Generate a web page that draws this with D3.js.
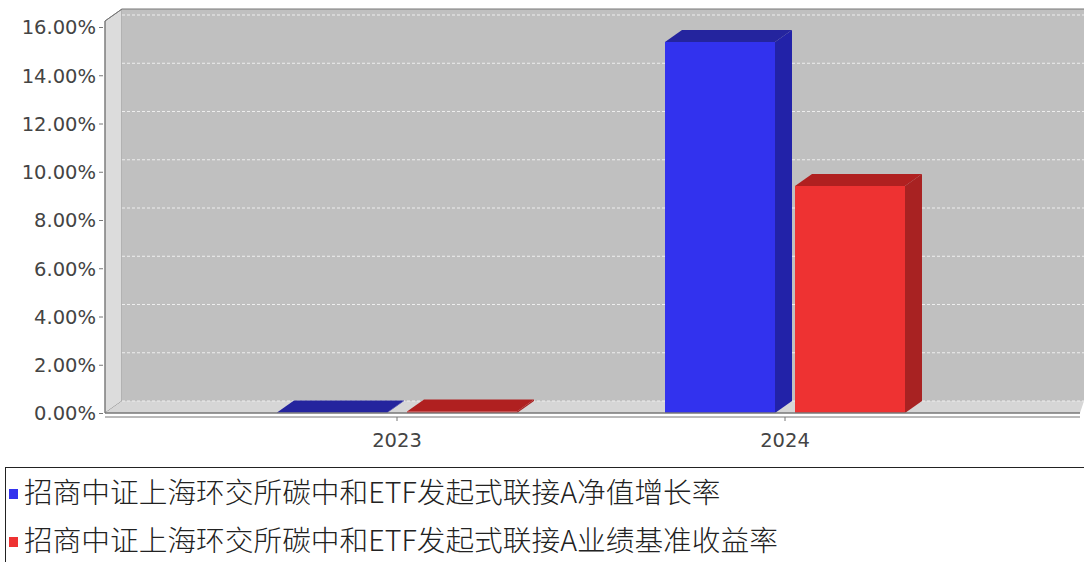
<html>
<head>
<meta charset="utf-8">
<script src="https://cdn.jsdelivr.net/npm/d3@7"></script>
<style>
body{margin:0;background:#fff;font-family:"DejaVu Sans",sans-serif;}
</style>
</head>
<body>
<div id="chart"></div>
<script>
const categories = ['2023', '2024'];
const seriesNames = ['招商中证上海环交所碳中和ETF发起式联接A净值增长率', '招商中证上海环交所碳中和ETF发起式联接A业绩基准收益率'];
const navGrowth = [0.02, 15.38];
const benchmark = [0.06, 9.41];
const yTicks = [0, 2, 4, 6, 8, 10, 12, 14, 16];

const W = 1084, H = 562, dx = 17, dy = 12;
const pLeft = 105, pTop = 27, pBottom = 413;
const front = ['#3232ee', '#ee3232'], side = ['#2222a8', '#a82222'], roof = ['#24249e', '#b02020'];

const svg = d3.select('#chart').append('svg').attr('width', W).attr('height', H);
const y = d3.scaleLinear().domain([0, 16]).range([pBottom, pTop]);
const x = d3.scaleBand().domain(categories).range([203, 979]);
const sub = d3.scaleBand().domain([0, 1]).range([-120, 120]).paddingInner(0.1538);

// side wall, back wall, floor
svg.append('path').attr('d', `M${pLeft},${pBottom}L${pLeft},${pTop - 6}L${pLeft + dx},${pTop - 6 - dy}L${pLeft + dx},${pBottom - dy}Z`)
  .attr('fill', '#dcdcdc').attr('stroke', '#888');
svg.append('rect').attr('x', pLeft + dx).attr('y', pTop - 6 - dy).attr('width', W - pLeft - dx).attr('height', pBottom - pTop + 6)
  .attr('fill', '#c0c0c0');
svg.append('path').attr('d', `M${pLeft},${pBottom}L${pLeft + dx},${pBottom - dy}L${W},${pBottom - dy}L${W - 4},${pBottom}Z`)
  .attr('fill', '#d6d6d6');
svg.append('path').attr('d', `M${pLeft},${pTop - 6}L${pLeft + dx},${pTop - 6 - dy}L${W},${pTop - 6 - dy}`).attr('fill', 'none').attr('stroke', '#777');
svg.selectAll('.grid').data(yTicks.slice(1)).join('line')
  .attr('x1', pLeft + dx).attr('x2', W).attr('y1', d => y(d) - dy).attr('y2', d => y(d) - dy)
  .attr('stroke', '#eee').attr('stroke-dasharray', '3,2');
svg.append('line').attr('x1', pLeft + dx).attr('x2', W).attr('y1', pBottom - dy).attr('y2', pBottom - dy)
  .attr('stroke', '#eee').attr('stroke-dasharray', '3,2');

// bars
const data = [];
categories.forEach((c, i) => { data.push({c, s: 0, v: navGrowth[i]}); data.push({c, s: 1, v: benchmark[i]}); });
data.forEach(d => {
  const x0 = x(d.c) + x.bandwidth() / 2 + sub(d.s), x1 = x0 + sub.bandwidth(), yt = y(d.v);
  const g = svg.append('g');
  g.append('rect').attr('x', x0).attr('y', yt).attr('width', x1 - x0).attr('height', pBottom - yt).attr('fill', front[d.s]);
  g.append('path').attr('d', `M${x1},${yt}L${x1 + dx},${yt - dy}L${x1 + dx},${pBottom - dy}L${x1},${pBottom}Z`).attr('fill', side[d.s]);
  g.append('path').attr('d', `M${x0},${yt}L${x0 + dx},${yt - dy}L${x1 + dx},${yt - dy}L${x1},${yt}Z`).attr('fill', roof[d.s]);
});

// axes
svg.append('line').attr('x1', pLeft).attr('x2', pLeft).attr('y1', pTop - 6).attr('y2', pBottom).attr('stroke', '#777');
svg.append('line').attr('x1', pLeft).attr('x2', W - 4).attr('y1', pBottom).attr('y2', pBottom).attr('stroke', '#777').attr('stroke-width', 1.5);
svg.append('line').attr('x1', pLeft).attr('x2', W - 4).attr('y1', pBottom + 4).attr('y2', pBottom + 4).attr('stroke', '#777');
const ya = svg.append('g').attr('transform', `translate(${pLeft - 2},0)`)
  .call(d3.axisLeft(y).tickValues(yTicks).tickFormat(d => d.toFixed(2) + '%').tickSize(4));
ya.select('.domain').remove();
ya.selectAll('line').attr('stroke', '#777');
ya.selectAll('text').attr('font-size', 19.5).attr('font-family', '"DejaVu Sans"').attr('fill', '#444').attr('dy', '0.35em');
const xa = svg.append('g').attr('transform', `translate(0,${pBottom + 4})`)
  .call(d3.axisBottom(x).tickSize(4).tickPadding(12));
xa.select('.domain').remove();
xa.selectAll('line').attr('stroke', '#777');
xa.selectAll('text').attr('font-size', 19.5).attr('font-family', '"DejaVu Sans"').attr('fill', '#444');

// legend
svg.append('rect').attr('x', 5.5).attr('y', 467.5).attr('width', W).attr('height', 120).attr('fill', 'none').attr('stroke', '#222');
seriesNames.forEach((n, i) => {
  const ly = 493 + i * 48;
  svg.append('rect').attr('x', 9).attr('y', ly - 4).attr('width', 9).attr('height', 10).attr('fill', front[i]);
  svg.append('text').attr('x', 24).attr('y', ly).attr('dy', '0.35em').attr('font-size', 28.7)
    .attr('font-family', '"Noto Sans CJK SC"').attr('font-weight', 300).attr('fill', '#222').text(n);
});
</script>
</body>
</html>
